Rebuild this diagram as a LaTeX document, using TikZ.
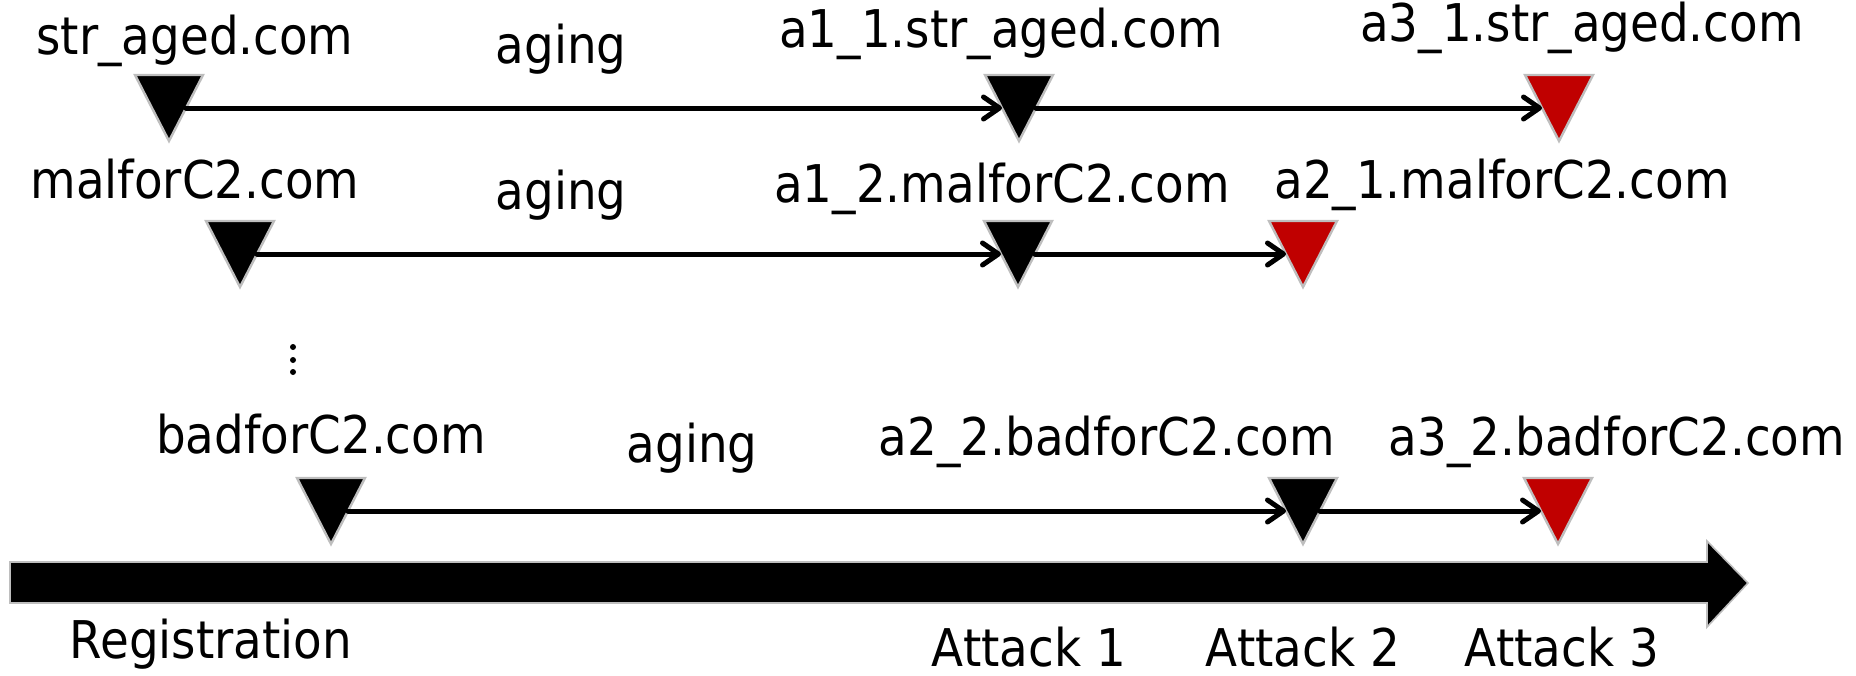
\documentclass[tikz,border=0pt]{standalone}
\usepackage{fontspec}
\setmainfont{DejaVu Sans}[FakeStretch=0.9]
\usetikzlibrary{arrows.meta,calc}
\definecolor{attackred}{RGB}{192,0,0}
\definecolor{edgegray}{RGB}{190,190,190}

% a downward triangle marking a domain event, with a named centre point
\newcommand{\domtri}[4]{%
  \coordinate (#1) at (#2,#3);
  \path[tribox, fill=#4] ($(#1)+(-34,-33)$) -- ($(#1)+(34,-33)$) -- ($(#1)+(0,33)$) -- cycle;
}

\begin{document}
\begin{tikzpicture}[x=0.5pt,y=-0.5pt,
  lbl/.style={anchor=base, inner sep=0pt, font=\fontsize{26pt}{30pt}\selectfont},
  tribox/.style={draw=edgegray, line width=1.2pt, line join=miter},
  link/.style={line width=2.5pt, line cap=round,
    -{Straight Barb[length=8pt,width=11pt,round]}},
  timeline/.style={draw=edgegray, fill=black, line width=0.8pt, line join=miter},
  vdot/.style={fill=black}]
\useasboundingbox (0,0) rectangle (1856,675);

% time axis
\path[timeline] (10,562) -- (1707,562) -- (1707,541) -- (1748,583)
  -- (1707,627) -- (1707,603) -- (10,603) -- cycle;

% row 1: str_aged.com
\domtri{s0}{169}{108}{black}
\domtri{s1}{1019}{108}{black}
\domtri{s2}{1559}{108}{attackred}
\draw[link] ($(s0)+(17,0)$) -- ($(s1)+(-17,0)$);
\draw[link] ($(s1)+(17,0)$) -- ($(s2)+(-17,0)$);
\node[lbl] (s0l) at (195,54) {str\_aged.com};
\node[lbl] (s01) at (561,63) {aging};
\node[lbl] (s1l) at (1001,47) {a1\_1.str\_aged.com};
\node[lbl] (s2l) at (1582,41) {a3\_1.str\_aged.com};

% row 2: malforC2.com
\domtri{m0}{240}{254}{black}
\domtri{m1}{1018}{254}{black}
\domtri{m2}{1303}{254}{attackred}
\draw[link] ($(m0)+(17,0)$) -- ($(m1)+(-17,0)$);
\draw[link] ($(m1)+(17,0)$) -- ($(m2)+(-17,0)$);
\node[lbl] (m0l) at (195,198) {malforC2.com};
\node[lbl] (m01) at (561,209) {aging};
\node[lbl] (m1l) at (1002,202) {a1\_2.malforC2.com};
\node[lbl] (m2l) at (1502,198) {a2\_1.malforC2.com};

% vertical ellipsis between the rows
\fill[vdot] (293,347) circle (3);
\fill[vdot] (293,360) circle (3);
\fill[vdot] (293,372) circle (3);

% row 3: badforC2.com
\domtri{b0}{331}{511}{black}
\domtri{b1}{1303}{511}{black}
\domtri{b2}{1558}{511}{attackred}
\draw[link] ($(b0)+(17,0)$) -- ($(b1)+(-17,0)$);
\draw[link] ($(b1)+(17,0)$) -- ($(b2)+(-17,0)$);
\node[lbl] (b0l) at (321,453) {badforC2.com};
\node[lbl] (b01) at (692,462) {aging};
\node[lbl] (b1l) at (1107,455) {a2\_2.badforC2.com};
\node[lbl] (b2l) at (1617,455) {a3\_2.badforC2.com};

% axis labels
\node[lbl] (reg) at (211,658) {Registration};
\node[lbl] (at1) at (1029,666) {Attack 1};
\node[lbl] (at2) at (1303,666) {Attack 2};
\node[lbl] (at3) at (1562,666) {Attack 3};
\end{tikzpicture}
\end{document}
